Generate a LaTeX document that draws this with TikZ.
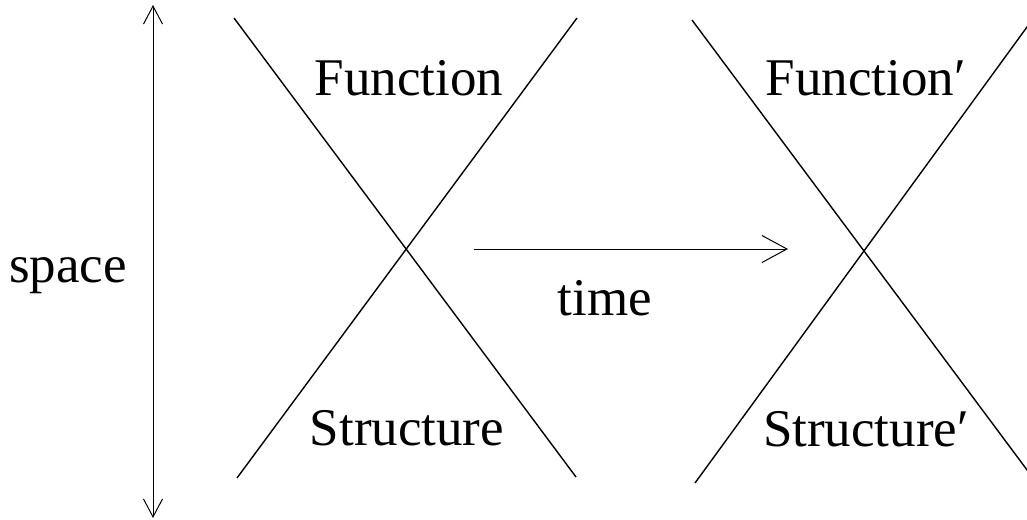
\documentclass[tikz,border=0pt]{standalone}
\usepackage{fontspec}
\setmainfont{Liberation Serif}
\usetikzlibrary{arrows.meta}
\begin{document}
\begin{tikzpicture}[x=1pt,y=-1pt,
  xline/.style={line width=1.4pt},
  lbl/.style={font=\fontsize{53}{63}\selectfont, inner sep=0pt},
  varrow/.style={line width=1pt,{Straight Barb[length=18pt,width=19pt]}-{Straight Barb[length=18pt,width=19pt]}},
  harrow/.style={line width=1pt,-{Straight Barb[length=25pt,width=27pt]}}]
\useasboundingbox (0,0) rectangle (1027,519);
% left X
\coordinate (a1) at (234,18);
\coordinate (a2) at (576,477);
\coordinate (a3) at (577,18);
\coordinate (a4) at (237,478);
\draw[xline] (a1) -- (a2);
\draw[xline] (a3) -- (a4);
% right X
\coordinate (b1) at (692,20);
\coordinate (b2) at (1036,482);
\coordinate (b3) at (1035,16);
\coordinate (b4) at (695,483);
\draw[xline] (b1) -- (b2);
\draw[xline] (b3) -- (b4);
% arrows
\coordinate (s1) at (153,5);
\coordinate (s2) at (153,518);
\draw[varrow] (s1) -- (s2);
\coordinate (t1) at (474,249);
\coordinate (t2) at (788,249);
\draw[harrow] (t1) -- (t2);
% labels
\node[lbl] (space) at (68,276) {space};
\node[lbl] (time) at (605,298) {time};
\node[lbl] (f1) at (409,78) {Function};
\node[lbl] (st1) at (407,428) {Structure};
\node[lbl] (f2) at (866,78) {Function′};
\node[lbl] (st2) at (866,429) {Structure′};
\end{tikzpicture}
\end{document}
